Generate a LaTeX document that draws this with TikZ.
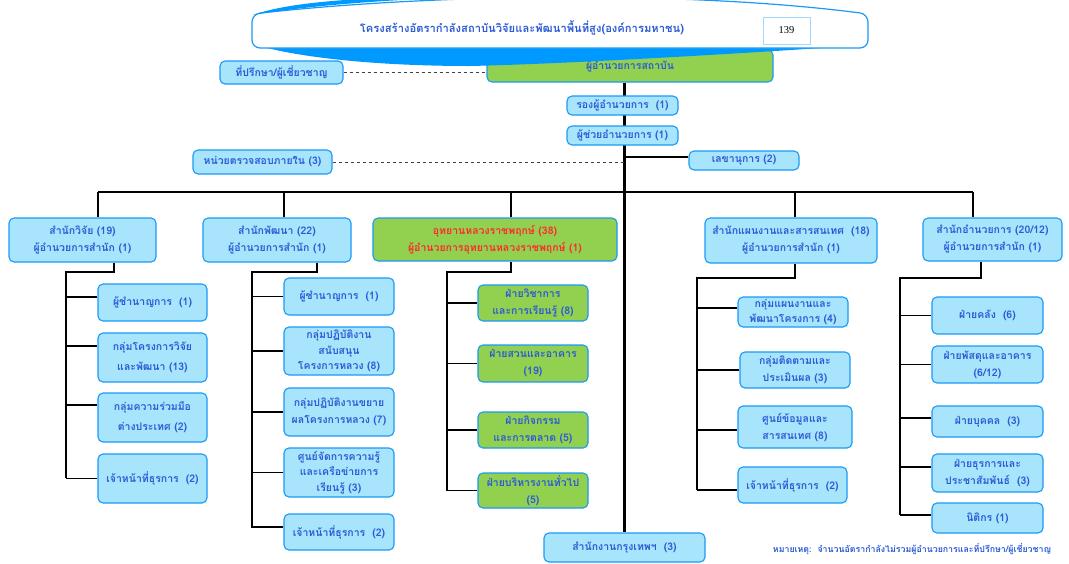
\documentclass[tikz,border=0pt]{standalone}
\usepackage{fontspec}
\setmainfont{Liberation Serif}
\newfontfamily\thai[Script=Thai]{Loma}
\usetikzlibrary{backgrounds}
\definecolor{lblue}{HTML}{A8E4FC}
\definecolor{bord}{HTML}{1A9AF5}
\definecolor{bannerblue}{HTML}{0099FF}
\definecolor{lgreen}{HTML}{92D050}
\definecolor{tblue}{HTML}{2B5BD6}
\definecolor{tred}{HTML}{FF2A2A}
\begin{document}
\begin{tikzpicture}[x=1pt,y=-1pt,
  bx/.style={draw=bord, line width=1.1pt, fill=lblue, rounded corners=5pt, text=tblue,
    font=\thai\bfseries\fontsize{10.5}{17}\selectfont, align=center, inner sep=0pt},
  gbx/.style={bx, fill=lgreen},
  trunk/.style={line width=2.2pt, draw=black},
  busl/.style={line width=1.5pt, draw=black},
  spine/.style={line width=1.4pt, draw=black},
  tick/.style={line width=1.1pt, draw=black},
  dline/.style={dashed, line width=0.8pt, draw=black!75}]
\useasboundingbox (0,0) rectangle (1069,563);

% director (partly hidden by the banner)
\node[gbx, minimum width=286pt, minimum height=32pt] (dir) at (630,66) {ผู้อำนวยการสถาบัน};

% banner: lower blue wave
\path[fill=bannerblue] (256,45) -- (866,45) .. controls (720,55) and (560,64) .. (470,66)
  .. controls (380,66) and (300,58) .. (256,45) -- cycle;
% banner: white plate
\filldraw[fill=white, draw=bord, line width=1.2pt, rounded corners=8pt]
  (560,48) -- (252,48) -- (252,14) .. controls (450,-8) and (700,-8) .. (868,14) -- (868,48) -- cycle;
% banner: upper blue crescent
\path[fill=bannerblue] (253,15) .. controls (275,7) and (310,2) .. (360,-1) -- (420,-1)
  .. controls (360,2) and (300,7) .. (253,15) -- cycle;
\node[text=tblue, font=\thai\bfseries\fontsize{11.2}{13}\selectfont] (title) at (522,28)
  {โครงสร้างอัตรากำลังสถาบันวิจัยและพัฒนาพื้นที่สูง(องค์การมหาชน)};
\node[draw=bord!40, line width=0.6pt, fill=white, minimum width=47pt, minimum height=27pt,
  inner sep=0pt, font=\fontsize{10.5}{12}\selectfont] (num) at (786.5,30.5) {139};

% upper staff
\node[bx, minimum width=123pt, minimum height=23pt] (adv) at (281.5,72.5) {ที่ปรึกษา/ผู้เชี่ยวชาญ};
\node[bx, minimum width=111pt, minimum height=19pt] (dep) at (622.5,105.5) {รองผู้อำนวยการ~~(1)};
\node[bx, minimum width=111pt, minimum height=19pt] (asst) at (622.5,135.5) {ผู้ช่วยอำนวยการ (1)};
\node[bx, minimum width=139pt, minimum height=24pt] (aud) at (262.5,162) {หน่วยตรวจสอบภายใน (3)};
\node[bx, minimum width=110pt, minimum height=19pt] (sec) at (744,160.5) {เลขานุการ (2)};

% level 2
\node[bx, minimum width=147pt, minimum height=44pt] (c1) at (82.5,240) {สำนักวิจัย (19)\\ผู้อำนวยการสำนัก (1)};
\node[bx, minimum width=148pt, minimum height=44pt] (c2) at (277,240) {สำนักพัฒนา (22)\\ผู้อำนวยการสำนัก (1)};
\node[gbx, text=tred, minimum width=244pt, minimum height=43pt] (c3) at (495,239.5) {อุทยานหลวงราชพฤกษ์ (38)\\ผู้อำนวยการอุทยานหลวงราชพฤกษ์ (1)};
\node[bx, minimum width=172pt, minimum height=45pt] (c4) at (791,240.5) {สำนักแผนงานและสารสนเทศ~~(18)\\ผู้อำนวยการสำนัก (1)};
\node[bx, minimum width=139pt, minimum height=43pt] (c5) at (992.5,239.5) {สำนักอำนวยการ (20/12)\\ผู้อำนวยการสำนัก (1)};

% column 1
\node[bx, minimum width=109pt, minimum height=37pt] (a1) at (152.5,302.5) {ผู้ชำนาญการ~~(1)};
\node[bx, minimum width=109pt, minimum height=49pt] (a2) at (152.5,357.5) {กลุ่มโครงการวิจัย\\[3pt]และพัฒนา (13)};
\node[bx, minimum width=109pt, minimum height=49pt] (a3) at (152.5,417.5) {กลุ่มความร่วมมือ\\[3pt]ต่างประเทศ (2)};
\node[bx, minimum width=109pt, minimum height=49pt] (a4) at (152.5,478.5) {เจ้าหน้าที่ธุรการ~~(2)};

% column 2
\node[bx, minimum width=110pt, minimum height=37pt] (b1) at (339,296.5) {ผู้ชำนาญการ~~(1)};
\node[bx, minimum width=110pt, minimum height=48pt, font=\thai\bfseries\fontsize{10.5}{15.5}\selectfont] (b2) at (339,351) {กลุ่มปฏิบัติงาน\\สนับสนุน\\โครงการหลวง (8)};
\node[bx, minimum width=110pt, minimum height=48pt] (b3) at (339,412) {กลุ่มปฏิบัติงานขยาย\\ผลโครงการหลวง (7)};
\node[bx, minimum width=110pt, minimum height=49pt, font=\thai\bfseries\fontsize{10.5}{15.5}\selectfont] (b4) at (339,472.5) {ศูนย์จัดการความรู้\\และเครือข่ายการ\\เรียนรู้ (3)};
\node[bx, minimum width=110pt, minimum height=36pt] (b5) at (339,532) {เจ้าหน้าที่ธุรการ~~(2)};

% column 3
\node[gbx, minimum width=110pt, minimum height=36pt] (g1) at (533,303) {ฝ่ายวิชาการ\\และการเรียนรู้ (8)};
\node[gbx, minimum width=110pt, minimum height=37pt] (g2) at (533,363.5) {ฝ่ายสวนและอาคาร\\(19)};
\node[gbx, minimum width=110pt, minimum height=36pt] (g3) at (533,430) {ฝ่ายกิจกรรม\\และการตลาด (5)};
\node[gbx, minimum width=110pt, minimum height=35pt] (g4) at (533,490.5) {ฝ่ายบริหารงานทั่วไป\\(5)};

% column 4
\node[bx, minimum width=110pt, minimum height=30pt, font=\thai\bfseries\fontsize{10.5}{15}\selectfont] (d1) at (793,312) {กลุ่มแผนงานและ\\พัฒนาโครงการ (4)};
\node[bx, minimum width=110pt, minimum height=36pt] (d2) at (795,370) {กลุ่มติดตามและ\\ประเมินผล (3)};
\node[bx, minimum width=114pt, minimum height=42pt] (d3) at (795,427) {ศูนย์ข้อมูลและ\\สารสนเทศ (8)};
\node[bx, minimum width=109pt, minimum height=36pt] (d4) at (792.5,485) {เจ้าหน้าที่ธุรการ~~(2)};

% column 5
\node[bx, minimum width=111pt, minimum height=37pt] (e1) at (987.5,315.5) {ฝ่ายคลัง~~(6)};
\node[bx, minimum width=111pt, minimum height=37pt] (e2) at (987.5,364.5) {ฝ่ายพัสดุและอาคาร\\(6/12)};
\node[bx, minimum width=111pt, minimum height=31pt] (e3) at (987.5,421.5) {ฝ่ายบุคคล~~(3)};
\node[bx, minimum width=111pt, minimum height=38pt] (e4) at (987.5,473) {ฝ่ายธุรการและ\\ประชาสัมพันธ์~~(3)};
\node[bx, minimum width=111pt, minimum height=30pt] (e5) at (987.5,518) {นิติกร (1)};

% bottom
\node[bx, minimum width=161pt, minimum height=29pt] (bot) at (624.5,547.5) {สำนักงานกรุงเทพฯ~~(3)};
\node[text=tblue, font=\thai\bfseries\fontsize{8.8}{10}\selectfont, inner sep=0pt] (note) at (912,549)
  {หมายเหตุ:~~จำนวนอัตรากำลังไม่รวมผู้อำนวยการและที่ปรึกษา/ผู้เชี่ยวชาญ};

\begin{pgfonlayer}{background}
  \fill[white] (0,0) rectangle (1069,563);
  \draw[trunk] (dir.south -| bot.north) -- (bot.north);
  \draw[dline] (adv.east) -- (adv.east -| dir.west);
  \draw[dline] (aud.east) -- (aud.east -| bot.north);
  \draw[tick] ([yshift=3.5pt]sec.west) -- ([yshift=3.5pt]sec.west -| bot.north);
  % bus
  \coordinate (bl) at (98,192);
  \coordinate (j2) at (284,192);
  \coordinate (j3) at (511,192);
  \coordinate (j4) at (795,192);
  \coordinate (br) at (973,192);
  \draw[busl] (bl) -- (br);
  \draw[busl] (bl) -- (bl |- c1.north);
  \draw[busl] (j2) -- (j2 |- c2.north);
  \draw[busl] (j3) -- (j3 |- c3.north);
  \draw[busl] (j4) -- (j4 |- c4.north);
  \draw[busl] (br) -- (br |- c5.north);
  % column 1 spine
  \coordinate (k1) at (114,272); \coordinate (s1) at (66,272);
  \draw[spine] (c1.south -| k1) -- (k1) -- (s1) -- (s1 |- 0,478);
  \draw[tick] ([yshift=5.5pt]a1.west) -- ([yshift=5.5pt]a1.west -| s1);
  \draw[tick] ([yshift=11.5pt]a2.west) -- ([yshift=11.5pt]a2.west -| s1);
  \draw[tick] ([yshift=12.5pt]a3.west) -- ([yshift=12.5pt]a3.west -| s1);
  \draw[tick] (a4.west) -- (a4.west -| s1);
  % column 2 spine
  \coordinate (k2) at (317,272); \coordinate (s2) at (252,272);
  \draw[spine] (c2.south -| k2) -- (k2) -- (s2) -- (s2 |- 0,528);
  \draw[tick] (b1.west) -- (b1.west -| s2);
  \draw[tick] (b2.west) -- (b2.west -| s2);
  \draw[tick] (b3.west) -- (b3.west -| s2);
  \draw[tick] (b4.west) -- (b4.west -| s2);
  \draw[tick] ([yshift=5pt]b5.west) -- ([yshift=5pt]b5.west -| s2);
  % column 3 spine
  \coordinate (k3) at (511,272); \coordinate (s3) at (447,272);
  \draw[spine] (c3.south -| k3) -- (k3) -- (s3) -- (s3 |- g4.west);
  \draw[tick] (g1.west) -- (g1.west -| s3);
  \draw[tick] (g2.west) -- (g2.west -| s3);
  \draw[tick] (g3.west) -- (g3.west -| s3);
  \draw[tick] (g4.west) -- (g4.west -| s3);
  % column 4 spine
  \coordinate (k4) at (795,278); \coordinate (s4) at (697,278);
  \draw[spine] (c4.south -| k4) -- (k4) -- (s4) -- (s4 |- 0,490);
  \draw[tick] ([yshift=4pt]d1.west) -- ([yshift=4pt]d1.west -| s4);
  \draw[tick] (d2.west) -- (d2.west -| s4);
  \draw[tick] ([yshift=-3pt]d3.west) -- ([yshift=-3pt]d3.west -| s4);
  \draw[tick] ([yshift=-5pt]d4.west) -- ([yshift=-5pt]d4.west -| s4);
  % column 5 spine
  \coordinate (k5) at (981,278); \coordinate (s5) at (900,278);
  \draw[spine] (c5.south -| k5) -- (k5) -- (s5) -- (s5 |- 0,515);
  \draw[tick] (e1.west) -- (e1.west -| s5);
  \draw[tick] (e2.west) -- (e2.west -| s5);
  \draw[tick] ([yshift=3.5pt]e3.west) -- ([yshift=3.5pt]e3.west -| s5);
  \draw[tick] ([yshift=6pt]e4.west) -- ([yshift=6pt]e4.west -| s5);
  \draw[tick] ([yshift=3pt]e5.west) -- ([yshift=3pt]e5.west -| s5);
\end{pgfonlayer}
\end{tikzpicture}
\end{document}
